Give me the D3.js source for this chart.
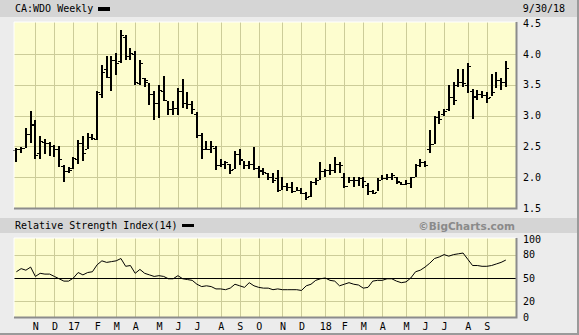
<!DOCTYPE html>
<html>
<head>
<meta charset="utf-8">
<script src="https://cdn.jsdelivr.net/npm/d3@7"></script>
<style>
  body { margin: 0; background: #ececec; }
  svg { display: block; }
  text { font-family: "DejaVu Sans Mono", monospace; font-size: 10px; fill: #000; }
</style>
</head>
<body>
<div id="chart"></div>
<script>
// CA:WDO weekly bars, week of Oct 3 2016 .. week of Sep 24 2018
let weeks = d3.timeMonday.range(new Date(2016, 9, 3), new Date(2018, 8, 25));

let opens = [
  2.44, 2.45, 2.48, 2.70, 2.85, 2.40, 2.57, 2.55, 2.50, 2.45,
  2.18, 2.10, 2.15, 2.30, 2.55, 2.45, 2.65, 2.62, 3.35, 3.75,
  3.62, 3.90, 3.88, 4.28, 3.97, 4.00, 3.52, 3.60, 3.55, 3.35,
  3.20, 3.40, 3.25, 3.10, 3.12, 3.40, 3.20, 3.18, 3.03, 2.68,
  2.45, 2.46, 2.48, 2.20, 2.22, 2.22, 2.14, 2.38, 2.28, 2.20,
  2.22, 2.15, 2.12, 2.06, 2.00, 1.98, 1.80, 1.85, 1.84, 1.78,
  1.79, 1.74, 1.70, 1.92, 1.96, 2.10, 2.12, 2.12, 2.22, 2.00,
  1.86, 1.95, 1.95, 1.98, 1.88, 1.77, 1.76, 1.96, 1.99, 2.00,
  2.00, 1.92, 1.89, 1.90, 2.00, 2.20, 2.24, 2.45, 2.53, 2.97,
  3.03, 3.10, 3.30, 3.50, 3.55, 3.50, 3.40, 3.30, 3.35, 3.33,
  3.30, 3.38, 3.58, 3.55
];
let highs = [
  2.47, 2.49, 2.80, 3.07, 2.92, 2.66, 2.62, 2.57, 2.52, 2.50,
  2.20, 2.16, 2.33, 2.60, 2.66, 2.71, 2.70, 3.40, 3.82, 3.97,
  3.97, 4.01, 4.39, 4.31, 4.10, 4.04, 3.90, 3.61, 3.53, 3.39,
  3.50, 3.64, 3.23, 3.24, 3.44, 3.59, 3.38, 3.24, 3.06, 2.72,
  2.58, 2.58, 2.50, 2.30, 2.27, 2.22, 2.42, 2.46, 2.27, 2.27,
  2.49, 2.18, 2.15, 2.06, 2.06, 2.12, 2.00, 1.90, 1.92, 1.84,
  1.82, 1.76, 1.93, 1.98, 2.25, 2.14, 2.22, 2.33, 2.25, 2.06,
  2.00, 2.00, 2.00, 2.00, 1.90, 1.80, 1.98, 2.03, 2.05, 2.07,
  2.00, 1.92, 1.95, 2.00, 2.22, 2.30, 2.26, 2.76, 3.00, 3.07,
  3.10, 3.50, 3.55, 3.75, 3.76, 3.85, 3.43, 3.41, 3.40, 3.38,
  3.68, 3.71, 3.61, 3.88
];
let lows = [
  2.24, 2.39, 2.47, 2.55, 2.30, 2.30, 2.38, 2.35, 2.33, 2.16,
  1.92, 2.07, 2.14, 2.22, 2.27, 2.45, 2.60, 2.60, 3.28, 3.60,
  3.40, 3.66, 3.85, 3.90, 3.90, 3.50, 3.50, 3.47, 3.17, 2.93,
  2.96, 3.23, 3.01, 3.01, 3.01, 3.12, 3.11, 3.03, 2.63, 2.30,
  2.44, 2.40, 2.12, 2.17, 2.14, 2.05, 2.14, 2.20, 2.14, 2.14,
  2.12, 1.98, 2.03, 1.95, 1.90, 1.76, 1.79, 1.77, 1.74, 1.77,
  1.72, 1.63, 1.68, 1.87, 1.95, 2.00, 2.03, 2.06, 2.06, 1.82,
  1.90, 1.84, 1.86, 1.82, 1.71, 1.72, 1.77, 1.95, 1.95, 1.96,
  1.89, 1.87, 1.87, 1.83, 2.00, 2.17, 2.16, 2.40, 2.53, 2.86,
  3.00, 3.08, 3.17, 3.47, 3.47, 3.36, 2.95, 3.25, 3.28, 3.20,
  3.31, 3.45, 3.42, 3.46
];
let closes = [
  2.45, 2.47, 2.70, 2.87, 2.36, 2.58, 2.55, 2.50, 2.45, 2.30,
  2.10, 2.12, 2.31, 2.55, 2.40, 2.65, 2.63, 3.38, 3.70, 3.63,
  3.90, 3.85, 4.30, 3.97, 4.01, 3.55, 3.85, 3.58, 3.35, 3.20,
  3.42, 3.25, 3.10, 3.12, 3.40, 3.20, 3.18, 3.10, 2.68, 2.45,
  2.46, 2.50, 2.20, 2.22, 2.24, 2.12, 2.38, 2.30, 2.20, 2.22,
  2.15, 2.10, 2.08, 2.00, 1.95, 1.80, 1.85, 1.84, 1.78, 1.79,
  1.74, 1.68, 1.92, 1.96, 2.10, 2.12, 2.12, 2.22, 2.20, 1.85,
  1.95, 1.95, 1.98, 1.93, 1.77, 1.75, 1.96, 1.99, 2.00, 2.03,
  1.93, 1.89, 1.90, 2.00, 2.20, 2.24, 2.20, 2.53, 2.97, 2.95,
  3.08, 3.30, 3.25, 3.55, 3.52, 3.80, 3.32, 3.35, 3.33, 3.28,
  3.38, 3.58, 3.55, 3.77
];

// RSI(14), one value per week
let rsi = [
  58, 62, 60, 64, 52, 56, 55, 55, 52, 49,
  46, 46, 50, 57, 54, 57, 58, 67, 72, 70,
  71, 72, 75, 65, 66, 56, 61, 56, 54, 52,
  53, 52, 49, 49, 53, 49, 48, 47, 42, 39,
  40, 39, 36, 36, 35, 37, 42, 40, 38, 44,
  40, 38, 37, 37, 35, 36, 35, 35, 35, 35,
  34, 40, 42, 47, 49, 50, 47, 46, 40, 42,
  44, 42, 41, 37, 38, 46, 47, 47, 49, 49,
  46, 44, 45, 50, 58, 60, 64, 69, 75, 77,
  80, 78, 80, 81, 82, 74, 66, 66, 65, 65,
  66, 68, 70, 73
];

let months = d3.timeMonth.range(new Date(2016, 10, 1), new Date(2018, 9, 1));
let monthLabels = ["N", "D", "17", "F", "M", "A", "M", "J", "J", "A", "S", "O",
                   "N", "D", "18", "F", "M", "A", "M", "J", "J", "A", "S"];
let priceTicks = [1.5, 2.0, 2.5, 3.0, 3.5, 4.0, 4.5];
let rsiTicks = [0, 20, 50, 80, 100];

let width = 579, height = 335;
let price = {left: 14, right: 516, top: 22, bottom: 208};
let osc = {left: 14, right: 516, top: 238, bottom: 317};

let svg = d3.select("#chart")
  .append("svg")
    .attr("width", width)
    .attr("height", height);

svg.append("rect")
  .attr("width", width).attr("height", height)
  .attr("fill", "#ececec");

// title bands
svg.append("rect").attr("x", 0).attr("y", 0).attr("width", width).attr("height", 17).attr("fill", "#d5d5d5");
svg.append("rect").attr("x", 0).attr("y", 218).attr("width", width).attr("height", 15).attr("fill", "#d5d5d5");

svg.append("text").attr("x", 15).attr("y", 12).text("CA:WDO Weekly");
svg.append("rect").attr("x", 98).attr("y", 7).attr("width", 12).attr("height", 4).attr("fill", "#000");
svg.append("text").attr("x", 565).attr("y", 12).attr("text-anchor", "end").text("9/30/18");

svg.append("text").attr("x", 15).attr("y", 229).text("Relative Strength Index(14)");
svg.append("rect").attr("x", 182).attr("y", 224).attr("width", 12).attr("height", 3).attr("fill", "#000");
svg.append("text").attr("x", 515).attr("y", 229.5).attr("text-anchor", "end")
  .style("font-family", "'DejaVu Sans', sans-serif").style("font-weight", "bold")
  .style("font-size", "10.5px").style("fill", "#8a8a8a")
  .text("\u00A9BigCharts.com");

// scales
let x = d3.scaleTime()
    .domain([new Date(2016, 8, 29, 12), new Date(2018, 9, 9)])
    .range([price.left, price.right]);
let y = d3.scaleLinear().domain([1.5, 4.5]).range([price.bottom, price.top + 1]);
let yR = d3.scaleLinear().domain([0, 100]).range([osc.bottom, osc.top + 1]);

let gridX = months.map(function(d) { return Math.round(x(d3.timeMonday.floor(d))) + 0.5; });

function panel(p, hLines) {
  let g = svg.append("g");
  g.append("rect")
    .attr("x", p.left).attr("y", p.top)
    .attr("width", p.right - p.left).attr("height", p.bottom - p.top)
    .attr("fill", "#fdfdcf");
  g.selectAll(".vg").data(gridX).enter().append("line")
    .attr("x1", function(d) { return d; }).attr("x2", function(d) { return d; })
    .attr("y1", p.top).attr("y2", p.bottom)
    .attr("stroke", "#cccc99").attr("stroke-width", 1);
  g.selectAll(".hg").data(hLines).enter().append("line")
    .attr("x1", p.left).attr("x2", p.right)
    .attr("y1", function(d) { return d; }).attr("y2", function(d) { return d; })
    .attr("stroke", "#cccc99").attr("stroke-width", 1);
  return g;
}

function frame(p) {
  svg.append("path")
    .attr("d", "M" + p.left + "," + p.bottom + "V" + p.top + "H" + p.right)
    .attr("fill", "none").attr("stroke", "#ffffff").attr("stroke-width", 1);
  svg.append("path")
    .attr("d", "M" + (p.left) + "," + (p.bottom + 0.5) + "H" + (p.right + 0.5) + "V" + p.top)
    .attr("fill", "none").attr("stroke", "#8c8c8c").attr("stroke-width", 2);
}

panel(price, [2.0, 2.5, 3.0, 3.5, 4.0].map(function(v) { return Math.round(y(v)) + 0.5; }));
panel(osc, [20, 80].map(function(v) { return Math.round(yR(v)) + 0.5; }));

// price bars: high-low stem, open tick left, close tick right
let bars = weeks.map(function(d, i) {
  return {date: d, o: opens[i], h: highs[i], l: lows[i], c: closes[i]};
});
let barG = svg.append("g").attr("shape-rendering", "crispEdges");
bars.forEach(function(d) {
  let cx = Math.round(x(d.date));
  let top = Math.round(y(d.h)), bot = Math.round(y(d.l));
  barG.append("rect").attr("x", cx - 1).attr("y", top)
    .attr("width", 2).attr("height", Math.max(1, bot - top)).attr("fill", "#000");
  barG.append("rect").attr("x", cx - 3).attr("y", Math.round(y(d.o)))
    .attr("width", 2).attr("height", 1).attr("fill", "#000");
  barG.append("rect").attr("x", cx + 1).attr("y", Math.round(y(d.c)))
    .attr("width", 2).attr("height", 1).attr("fill", "#000");
});

// RSI
svg.append("line")
  .attr("x1", osc.left).attr("x2", osc.right)
  .attr("y1", Math.round(yR(50)) + 0.5).attr("y2", Math.round(yR(50)) + 0.5)
  .attr("stroke", "#000").attr("stroke-width", 1);

svg.append("path")
  .datum(weeks)
  .attr("fill", "none")
  .attr("stroke", "#000")
  .attr("stroke-width", 1)
  .attr("d", d3.line()
    .x(function(d) { return x(d); })
    .y(function(d, i) { return yR(rsi[i]); }));

frame(price);
frame(osc);

// axes
let yAxis = svg.append("g")
  .attr("transform", "translate(" + (price.right + 4) + ",0)")
  .call(d3.axisRight(y).tickValues(priceTicks).tickSize(0).tickPadding(3)
    .tickFormat(d3.format(".1f")));
let rAxis = svg.append("g")
  .attr("transform", "translate(" + (osc.right + 4) + ",0)")
  .call(d3.axisRight(yR).tickValues(rsiTicks).tickSize(0).tickPadding(3));

let xAxis = svg.append("g")
  .attr("transform", "translate(0," + (osc.bottom + 2) + ")")
  .call(d3.axisBottom(x)
    .tickValues(months.map(function(d) { return d3.timeMonday.floor(d); }))
    .tickSize(0).tickPadding(4)
    .tickFormat(function(d, i) { return monthLabels[i]; }));

[yAxis, rAxis, xAxis].forEach(function(a) {
  a.select(".domain").remove();
  a.selectAll("text")
    .style("font-family", "'DejaVu Sans Mono', monospace")
    .style("font-size", "10px")
    .attr("fill", "#000");
});

// outer edge
svg.append("path")
  .attr("d", "M0," + (height - 1) + "H" + (width - 1) + "V0")
  .attr("fill", "none").attr("stroke", "#9a9a9a").attr("stroke-width", 2);
</script>
</body>
</html>
